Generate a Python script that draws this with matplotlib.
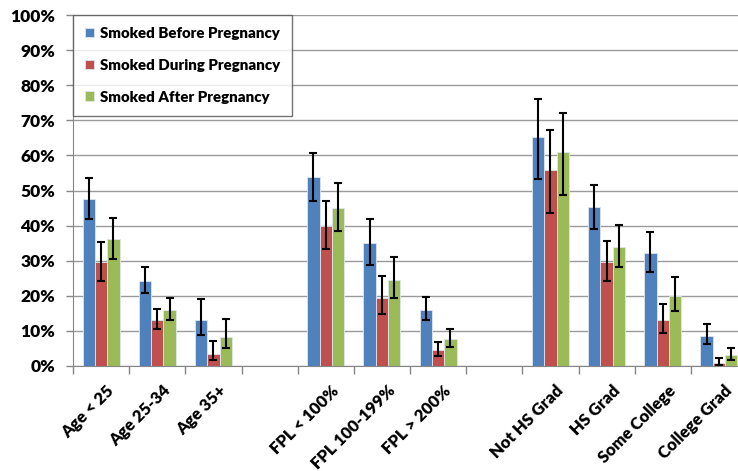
import numpy as np
import matplotlib
matplotlib.use("Agg")
import matplotlib.pyplot as plt
import matplotlib.transforms as mtransforms
from matplotlib.ticker import FuncFormatter, FixedLocator

plt.rcParams['font.family'] = ['Lato', 'DejaVu Sans']
plt.rcParams['font.weight'] = 'heavy'

# ---------------------------------------------------------------------------
# Datos (porcentajes)
# ---------------------------------------------------------------------------
categorias = ['Age < 25', 'Age 25-34', 'Age 35+',
              'FPL < 100%', 'FPL 100-199%', 'FPL > 200%',
              'Not HS Grad', 'HS Grad', 'Some College', 'College Grad']
posiciones = [0, 1, 2, 4, 5, 6, 8, 9, 10, 11]   # huecos entre grupos

antes = [47.7, 24.2, 13.1, 53.8, 35.0, 16.0, 65.3, 45.2, 32.3, 8.6]
antes_inf = [41.8, 20.9, 8.8, 47.0, 28.9, 13.1, 53.2, 39.0, 26.9, 6.4]
antes_sup = [53.7, 28.3, 19.2, 60.8, 41.8, 19.6, 76.0, 51.6, 38.3, 12.0]

durante = [29.6, 13.1, 3.3, 40.0, 19.5, 4.6, 55.8, 29.5, 13.1, 0.8]
durante_inf = [24.3, 10.5, 1.6, 33.4, 14.8, 2.9, 43.7, 24.2, 9.5, 0.3]
durante_sup = [35.4, 16.2, 7.2, 47.1, 25.6, 6.7, 67.2, 35.6, 17.8, 2.4]

despues = [36.1, 15.9, 8.3, 45.0, 24.6, 7.6, 61.0, 34.0, 19.9, 3.0]
despues_inf = [30.6, 13.1, 5.0, 38.4, 19.4, 5.5, 48.8, 28.3, 15.6, 1.8]
despues_sup = [42.1, 19.5, 13.5, 52.0, 31.1, 10.4, 72.1, 40.3, 25.4, 5.2]

series = [
    ('Smoked Before Pregnancy', antes, antes_inf, antes_sup, '#4F81BD'),
    ('Smoked During Pregnancy', durante, durante_inf, durante_sup, '#C0504D'),
    ('Smoked After Pregnancy', despues, despues_inf, despues_sup, '#9BBB59'),
]

# ---------------------------------------------------------------------------
# Gráfico
# ---------------------------------------------------------------------------
fig = plt.figure(figsize=(7.38, 4.71), dpi=100)
ax = fig.add_axes([73 / 738, 105 / 471, 674 / 738, 351 / 471])

ancho = 0.22
x = np.array(posiciones, dtype=float)
for i, (nombre, val, inf, sup, color) in enumerate(series):
    val = np.array(val)
    err = [val - np.array(inf), np.array(sup) - val]
    xi = x + (i - 1) * ancho
    ax.bar(xi, val, width=ancho, color=color, edgecolor='#dfe6ef',
           linewidth=0.6, label=nombre, zorder=2)
    ax.errorbar(xi, val, yerr=err, fmt='none', ecolor='black',
                elinewidth=1.5, capsize=3, capthick=1.5, zorder=3)

ax.set_xlim(-0.5, 11.5)
ax.set_ylim(0, 100)
ax.set_yticks(np.arange(0, 101, 10))
ax.yaxis.set_major_formatter(FuncFormatter(lambda v, p: f'{int(v)}%'))
ax.tick_params(axis='y', labelsize=12.5, length=5, width=1, color='#868686', pad=8)
ax.grid(axis='y', color='#9a9a9a', linewidth=1, zorder=0)
ax.set_axisbelow(True)

ax.set_xticks(x)
ax.set_xticklabels(categorias, rotation=45, ha='right', rotation_mode='anchor',
                   fontsize=12)
ax.tick_params(axis='x', which='major', length=0, pad=12)
# desplazar las etiquetas un poco a la derecha, como en el original
desplaza = mtransforms.ScaledTranslation(5 / 100, 0, fig.dpi_scale_trans)
for lbl in ax.get_xticklabels():
    lbl.set_transform(lbl.get_transform() + desplaza)
ax.xaxis.set_minor_locator(FixedLocator(np.arange(-0.5, 11.6, 1)))
ax.tick_params(axis='x', which='minor', length=6, width=1, color='#868686')

for s in ['top', 'right']:
    ax.spines[s].set_visible(False)
for s in ['left', 'bottom']:
    ax.spines[s].set_color('#868686')

leg = ax.legend(loc='upper left', bbox_to_anchor=(0.0, 1.0), fontsize=10.8,
                frameon=True, fancybox=False, edgecolor='#505050',
                handlelength=0.6, handleheight=0.6, handletextpad=0.4,
                labelspacing=1.25, borderpad=0.8, borderaxespad=0)
leg.get_frame().set_linewidth(1)

fig.savefig('out.png', dpi=100)
